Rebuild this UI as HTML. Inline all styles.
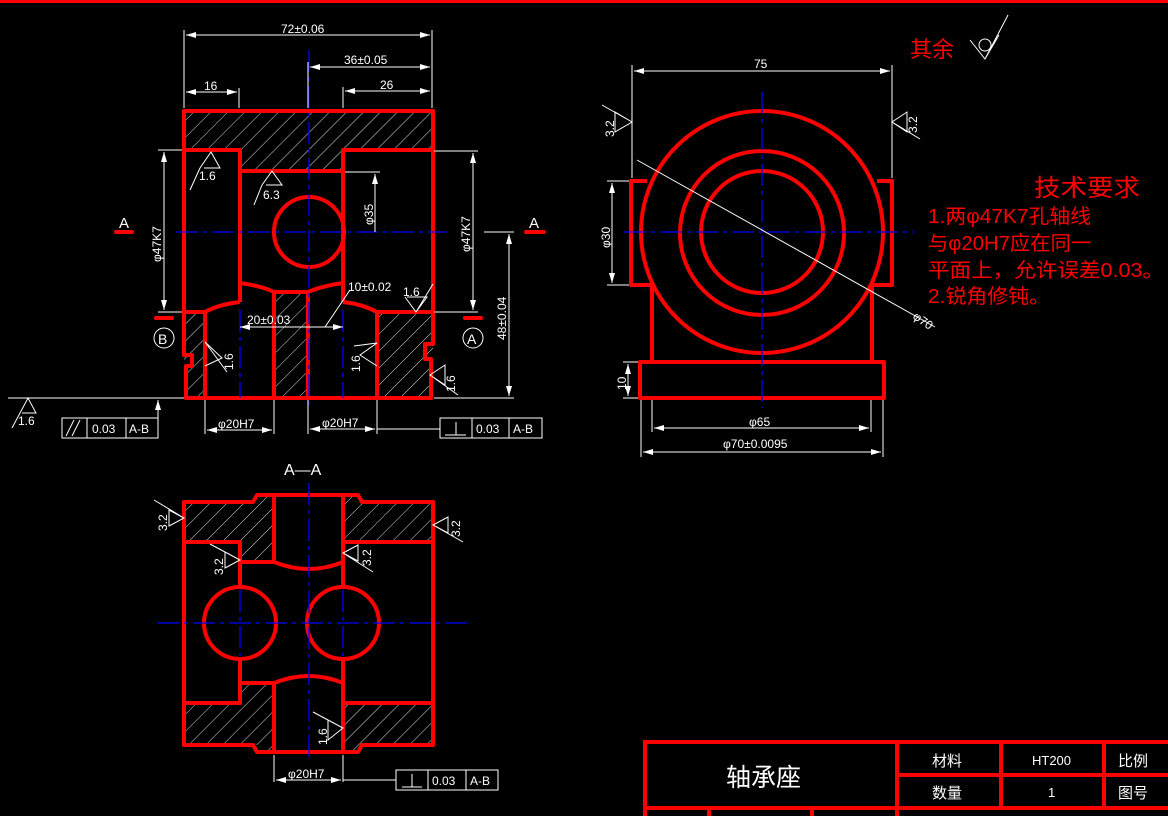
<!DOCTYPE html>
<html><head><meta charset="utf-8"><style>
html,body{margin:0;padding:0;background:#000;width:1168px;height:816px;overflow:hidden}
svg text{font-family:"Liberation Sans","Noto Sans CJK SC",sans-serif}
</style></head><body>
<svg width="1168" height="816" viewBox="0 0 1168 816" xmlns="http://www.w3.org/2000/svg">
<defs>
<pattern id="h" width="12" height="12" patternUnits="userSpaceOnUse" patternTransform="rotate(45)">
<line x1="0" y1="0" x2="0" y2="12" stroke="#ddd" stroke-width="1"/>
</pattern>
<marker id="a" markerWidth="10" markerHeight="6" refX="10" refY="3" orient="auto-start-reverse" markerUnits="userSpaceOnUse"><path d="M0,0 L10,3 L0,6z" fill="#fff"/></marker>
</defs>
<rect x="0" y="0" width="1168" height="3" fill="#f00"/>

<!-- ===== FRONT VIEW ===== -->
<g fill="url(#h)" stroke="none">
<rect x="184" y="111" width="249" height="39"/>
<rect x="240" y="150" width="103" height="21"/>
<rect x="184" y="312" width="21" height="86"/>
<rect x="274" y="292" width="34" height="106"/>
<rect x="377" y="312" width="56" height="86"/>
</g>
<g fill="none" stroke="#f00" stroke-width="4" stroke-linejoin="round">
<path d="M184,111 H433 V344 H425 V359 H431 V398 H186 V366 H192 V355 H184 Z"/>
<path d="M184,150 H240 V302 M343,302 V150 H433 M240,171 H343"/>
<path d="M240,283 Q262,286 274,292 H308 Q322,286 343,283"/>
<path d="M184,312 H205 Q220,304 240,302 M343,302 Q362,304 377,312 H433"/>
<path d="M205,312 V398 M274,292 V398 M308,292 V398 M377,312 V398"/>
<circle cx="309" cy="232" r="35"/>
</g>
<g stroke="#00f" stroke-width="1.3" stroke-dasharray="22,5,4,5">
<line x1="176" y1="232" x2="447" y2="232"/>
<line x1="309" y1="50" x2="309" y2="405"/>
<line x1="240" y1="310" x2="240" y2="398"/>
<line x1="343" y1="310" x2="343" y2="398"/>
</g>
<g fill="#f00" stroke="#f00" stroke-width="4" stroke-linecap="round">
<line x1="116" y1="232" x2="132" y2="232"/><line x1="526" y1="232" x2="544" y2="232"/>
<line x1="156" y1="318" x2="172" y2="318"/><line x1="465" y1="318" x2="481" y2="318"/>
</g>
<g fill="#fff" font-size="15"><text x="119" y="228">A</text><text x="529" y="228">A</text></g>
<g fill="none" stroke="#fff" stroke-width="1"><circle cx="164" cy="338" r="10"/><circle cx="473" cy="338" r="10"/></g>
<g fill="#fff" font-size="14"><text x="158" y="344">B</text><text x="467" y="344">A</text></g>

<g stroke="#fff" stroke-width="1" fill="none">
<line x1="184" y1="30" x2="184" y2="108"/><line x1="432" y1="30" x2="432" y2="108"/>
<line x1="186" y1="35" x2="430" y2="35" marker-start="url(#a)" marker-end="url(#a)"/>
<line x1="308" y1="62" x2="308" y2="108"/>
<line x1="310" y1="67" x2="430" y2="67" marker-start="url(#a)" marker-end="url(#a)"/>
<line x1="239" y1="88" x2="239" y2="108"/><line x1="343" y1="87" x2="343" y2="108"/>
<line x1="186" y1="92" x2="237" y2="92" marker-start="url(#a)" marker-end="url(#a)"/>
<line x1="345" y1="91" x2="430" y2="91" marker-start="url(#a)" marker-end="url(#a)"/>
<line x1="158" y1="150" x2="182" y2="150"/><line x1="158" y1="312" x2="182" y2="312"/>
<line x1="164" y1="152" x2="164" y2="310" marker-start="url(#a)" marker-end="url(#a)"/>
<line x1="434" y1="151" x2="478" y2="151"/><line x1="434" y1="312" x2="478" y2="312"/>
<line x1="473" y1="153" x2="473" y2="310" marker-start="url(#a)" marker-end="url(#a)"/>
<line x1="345" y1="172" x2="380" y2="172"/>
<line x1="375" y1="174" x2="375" y2="232" marker-start="url(#a)"/>
<line x1="484" y1="232" x2="514" y2="232"/><line x1="434" y1="398" x2="514" y2="398"/>
<line x1="509" y1="234" x2="509" y2="396" marker-start="url(#a)" marker-end="url(#a)"/>
<line x1="240" y1="327" x2="343" y2="327" marker-start="url(#a)" marker-end="url(#a)"/>
<line x1="325" y1="327" x2="350" y2="290"/>
<line x1="205" y1="400" x2="205" y2="434"/><line x1="274" y1="400" x2="274" y2="434"/>
<line x1="207" y1="430" x2="272" y2="430" marker-start="url(#a)" marker-end="url(#a)"/>
<line x1="308" y1="400" x2="308" y2="434"/><line x1="377" y1="400" x2="377" y2="434"/>
<line x1="310" y1="429" x2="375" y2="429" marker-start="url(#a)" marker-end="url(#a)"/>
<line x1="377" y1="429" x2="440" y2="429"/>
<line x1="8" y1="398" x2="184" y2="398"/>
<line x1="158" y1="418" x2="158" y2="400" marker-end="url(#a)"/>
<rect x="62" y="418" width="96" height="20"/><line x1="87" y1="418" x2="87" y2="438"/><line x1="126" y1="418" x2="126" y2="438"/>
<line x1="66" y1="436" x2="74" y2="420"/><line x1="72" y1="436" x2="80" y2="420"/>
<rect x="440" y="418" width="102" height="20"/><line x1="472" y1="418" x2="472" y2="438"/><line x1="509" y1="418" x2="509" y2="438"/>
<line x1="445" y1="435" x2="466" y2="435"/><line x1="456" y1="422" x2="456" y2="435"/>
<path d="M12,428 L28,398 L36,413 H22"/>
<path d="M200,168 L211,152 L220,168 H204 M200,168 L190,190"/>
<path d="M262,185 L272,171 L282,185 H266 M262,185 L254,205"/>
<path d="M405,297 L416,312 L427,297 H407 M416,312 L433,284"/>
<path d="M205,342 L222,358 L205,366 M205,342 L227,372"/>
<path d="M377,343 L360,355 L377,366 M377,343 L354,346"/>
<path d="M430,375 L445,365 L445,385 Z M430,375 L458,395"/>
</g>
<g fill="#fff" font-size="12">
<text x="281" y="33">72±0.06</text><text x="344" y="64">36±0.05</text>
<text x="204" y="90">16</text><text x="380" y="89">26</text>
<text x="199" y="180">1.6</text><text x="263" y="199">6.3</text>
<text x="348" y="291">10±0.02</text><text x="403" y="296">1.6</text>
<text x="247" y="324">20±0.03</text>
<text x="218" y="428">φ20H7</text><text x="322" y="427">φ20H7</text>
<text x="18" y="425">1.6</text>
<text x="92" y="433">0.03</text><text x="129" y="433">A-B</text>
<text x="476" y="433">0.03</text><text x="513" y="433">A-B</text>
<text transform="translate(161,262) rotate(-90)">φ47K7</text>
<text transform="translate(470,252) rotate(-90)">φ47K7</text>
<text transform="translate(373,225) rotate(-90)">φ35</text>
<text transform="translate(506,340) rotate(-90)">48±0.04</text>
<text transform="translate(233,370) rotate(-90)">1.6</text>
<text transform="translate(360,372) rotate(-90)">1.6</text>
<text transform="translate(455,392) rotate(-90)">1.6</text>
</g>

<!-- ===== SECTION A-A ===== -->
<text x="284" y="475" fill="#fff" font-size="16">A—A</text>
<g fill="url(#h)">
<path d="M184,502 H257 V493 H274 V560 H240 V542 H184 Z"/>
<path d="M343,493 H360 V502 H433 V542 H343 Z"/>
<path d="M184,703 H240 V683 H274 V753 H257 V745 H184 Z"/>
<path d="M343,703 H433 V745 H360 V753 H343 Z"/>
</g>
<g fill="none" stroke="#f00" stroke-width="4" stroke-linejoin="round">
<path d="M184,502 H253 L257,495 H358 L362,502 H433 V745 H362 L358,752 H257 L253,745 H184 Z"/>
<path d="M274,495 V562 M274,683 V752 M343,495 V587 M343,659 V752"/>
<path d="M184,542 H240 V588 M240,658 V703 H184"/>
<path d="M433,542 H343 M433,703 H343"/>
<path d="M240,562 H274 Q309,576 343,562"/>
<path d="M240,683 H274 Q309,669 343,683"/>
<circle cx="240" cy="623" r="36"/><circle cx="343" cy="623" r="36"/>
</g>
<g stroke="#00f" stroke-width="1.3" stroke-dasharray="22,5,4,5">
<line x1="157" y1="623" x2="468" y2="623"/>
<line x1="309" y1="483" x2="309" y2="762"/>
<line x1="240" y1="590" x2="240" y2="656"/><line x1="343" y1="590" x2="343" y2="656"/>
</g>
<g stroke="#fff" stroke-width="1" fill="none">
<path d="M184,518 L169,510 V526 Z M184,518 L154,500"/>
<path d="M240,560 L225,552 V568 Z M240,560 L210,544"/>
<path d="M343,553 L358,545 V561 Z M343,553 L373,572"/>
<path d="M433,525 L448,517 V533 Z M433,525 L463,542"/>
<path d="M343,728 L328,720 V740 Z M343,728 L313,712"/>
<line x1="274" y1="755" x2="274" y2="782"/><line x1="343" y1="755" x2="343" y2="782"/>
<line x1="276" y1="780" x2="341" y2="780" marker-start="url(#a)" marker-end="url(#a)"/>
<line x1="343" y1="780" x2="396" y2="780"/>
<rect x="396" y="770" width="102" height="20"/><line x1="428" y1="770" x2="428" y2="790"/><line x1="466" y1="770" x2="466" y2="790"/>
<line x1="402" y1="787" x2="422" y2="787"/><line x1="412" y1="774" x2="412" y2="787"/>
</g>
<g fill="#fff" font-size="12">
<text transform="translate(167,531) rotate(-90)">3.2</text>
<text transform="translate(223,575) rotate(-90)">3.2</text>
<text transform="translate(371,566) rotate(-90)">3.2</text>
<text transform="translate(460,537) rotate(-90)">3.2</text>
<text transform="translate(327,745) rotate(-90)">1.6</text>
<text x="288" y="778">φ20H7</text>
<text x="432" y="785">0.03</text><text x="470" y="785">A-B</text>
</g>

<!-- ===== SIDE VIEW ===== -->
<g fill="none" stroke="#f00" stroke-width="4" stroke-linejoin="round">
<circle cx="762" cy="232" r="121"/>
<circle cx="762" cy="233" r="82"/>
<circle cx="762" cy="232" r="61"/>
<path d="M647,181 H631 V285 H652"/>
<path d="M877,181 H892 V285 H872"/>
<path d="M652,285 V362 M872,285 V362"/>
<rect x="640" y="362" width="244" height="36"/>
</g>
<g stroke="#00f" stroke-width="1.3" stroke-dasharray="22,5,4,5">
<line x1="624" y1="232" x2="914" y2="232"/>
<line x1="762" y1="92" x2="762" y2="408"/>
</g>
<g stroke="#fff" stroke-width="1" fill="none">
<line x1="632" y1="65" x2="632" y2="178"/><line x1="892" y1="65" x2="892" y2="178"/>
<line x1="634" y1="71" x2="890" y2="71" marker-start="url(#a)" marker-end="url(#a)"/>
<line x1="637" y1="160" x2="935" y2="327"/>
<path d="M632,122 L615,112 V132 Z M632,122 L602,105"/>
<path d="M892,122 L907,112 V132 Z M892,122 L920,139"/>
<line x1="607" y1="181" x2="629" y2="181"/><line x1="607" y1="285" x2="629" y2="285"/>
<line x1="612" y1="183" x2="612" y2="283" marker-start="url(#a)" marker-end="url(#a)"/>
<line x1="623" y1="362" x2="638" y2="362"/><line x1="623" y1="398" x2="638" y2="398"/>
<line x1="628" y1="364" x2="628" y2="396" marker-start="url(#a)" marker-end="url(#a)"/>
<line x1="652" y1="400" x2="652" y2="432"/><line x1="871" y1="400" x2="871" y2="432"/>
<line x1="654" y1="428" x2="869" y2="428" marker-start="url(#a)" marker-end="url(#a)"/>
<line x1="641" y1="400" x2="641" y2="457"/><line x1="883" y1="400" x2="883" y2="457"/>
<line x1="643" y1="452" x2="881" y2="452" marker-start="url(#a)" marker-end="url(#a)"/>
<path d="M970,40 L985,59 L999,35 M985,59 L1008,15"/><circle cx="985" cy="45" r="6"/>
</g>
<g fill="#fff" font-size="12">
<text x="754" y="68">75</text>
<text x="749" y="426">φ65</text>
<text x="723" y="448">φ70±0.0095</text>
<text transform="translate(912,318) rotate(35)">φ70</text>
<text transform="translate(610,248) rotate(-90)">φ30</text>
<text transform="translate(626,390) rotate(-90)">10</text>
<text transform="translate(614,137) rotate(-90)">3.2</text>
<text transform="translate(917,133) rotate(-90)">3.2</text>
</g>
<g fill="#f00" font-family="Liberation Serif,'Noto Serif CJK SC',serif">
<text x="910" y="57" font-size="22">其余</text>
<text x="1034" y="196" font-size="24" textLength="106" lengthAdjust="spacingAndGlyphs">技术要求</text>
<text x="928" y="223" font-size="20" textLength="163" lengthAdjust="spacingAndGlyphs">1.两φ47K7孔轴线</text>
<text x="928" y="250" font-size="20" textLength="163" lengthAdjust="spacingAndGlyphs">与φ20H7应在同一</text>
<text x="928" y="277" font-size="20" textLength="236" lengthAdjust="spacingAndGlyphs">平面上，允许误差0.03。</text>
<text x="928" y="303" font-size="20" textLength="122" lengthAdjust="spacingAndGlyphs">2.锐角修钝。</text>
</g>

<!-- ===== TITLE BLOCK ===== -->
<g fill="none" stroke="#f00" stroke-width="4">
<path d="M645,816 V742 H1168"/>
<line x1="645" y1="808" x2="1168" y2="808"/>
<line x1="897" y1="742" x2="897" y2="816"/>
<line x1="897" y1="775" x2="1168" y2="775"/>
<line x1="1001" y1="742" x2="1001" y2="808"/>
<line x1="1104" y1="742" x2="1104" y2="808"/>
<line x1="709" y1="808" x2="709" y2="816"/><line x1="812" y1="808" x2="812" y2="816"/>
</g>
<g fill="#fff">
<text x="726" y="786" font-size="25">轴承座</text>
<text x="932" y="766" font-size="15">材料</text>
<text x="932" y="798" font-size="15">数量</text>
<text x="1032" y="765" font-size="13" font-family="Liberation Serif,serif">HT200</text>
<text x="1048" y="797" font-size="13">1</text>
<text x="1118" y="766" font-size="15">比例</text>
<text x="1118" y="798" font-size="15">图号</text>
</g>
</svg>
</body></html>
